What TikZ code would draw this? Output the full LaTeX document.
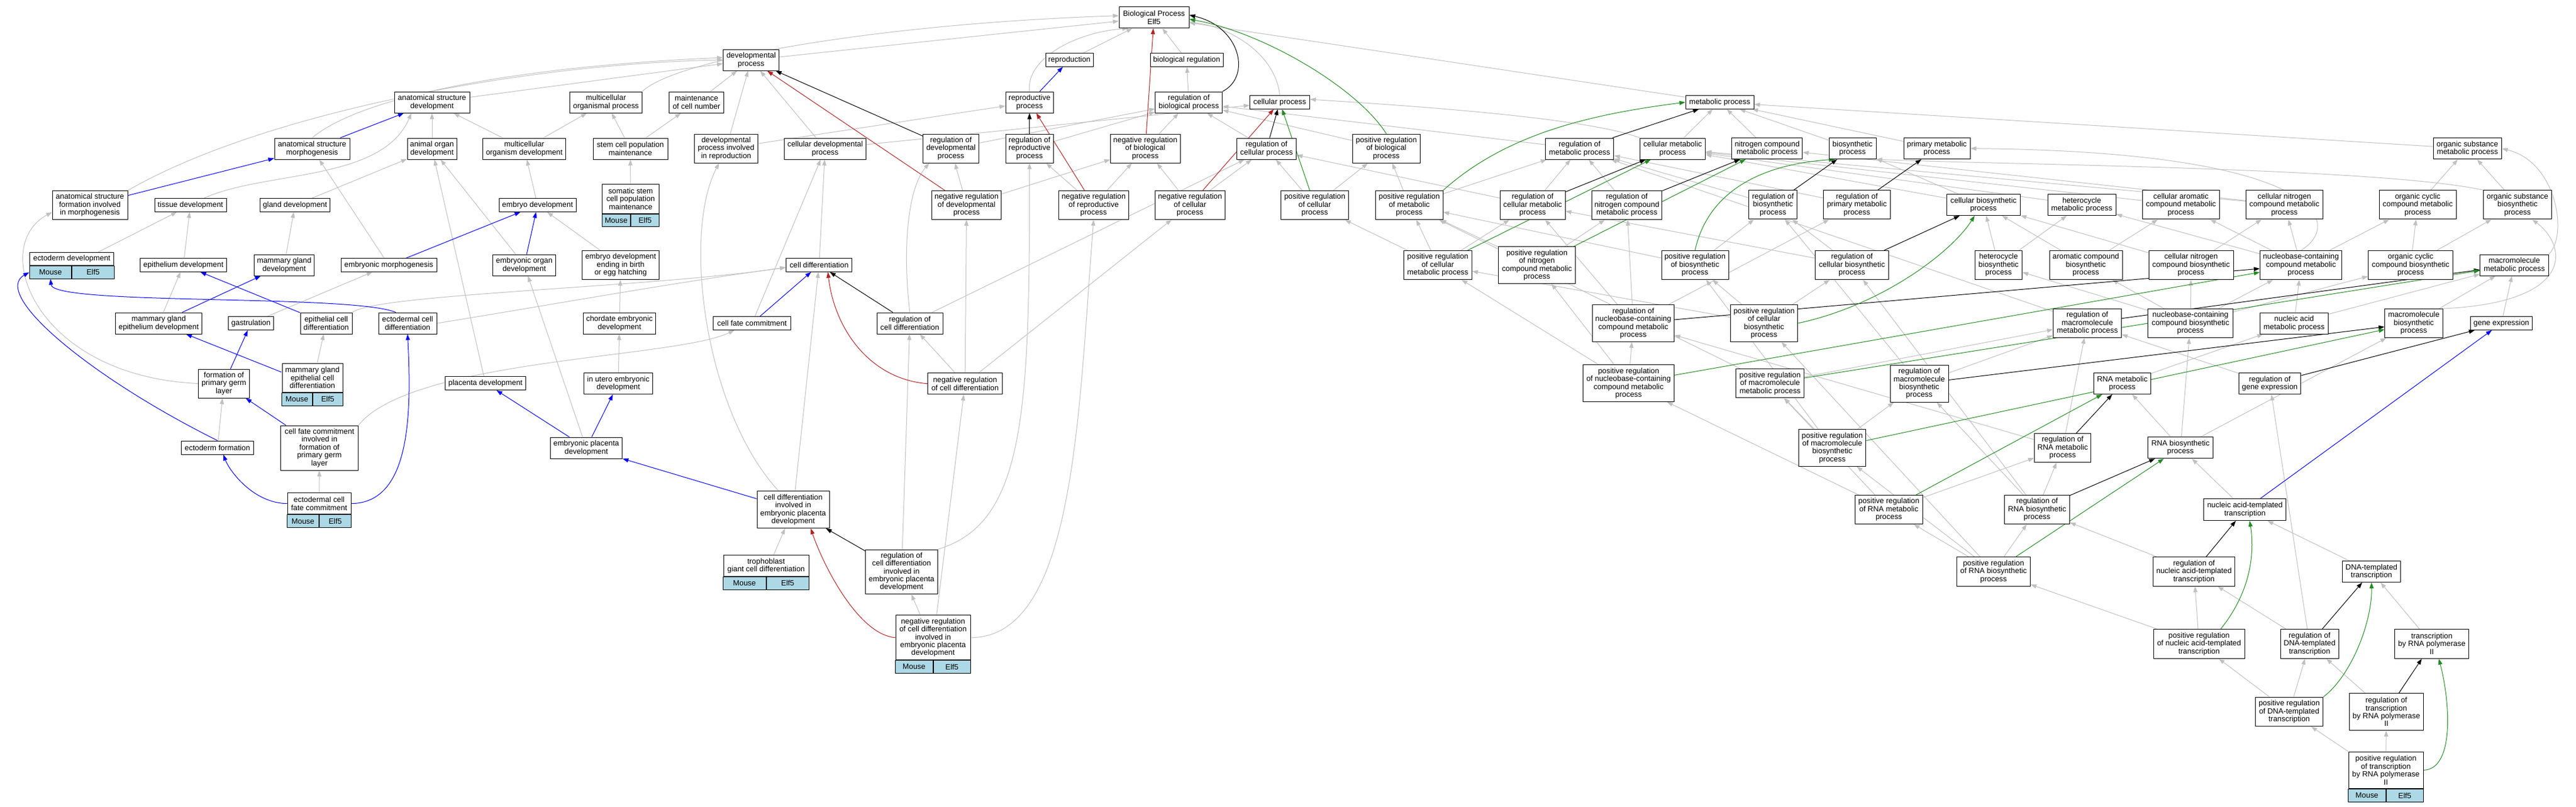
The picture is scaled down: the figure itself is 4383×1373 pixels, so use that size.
\documentclass[tikz,border=0pt]{standalone}
\usepackage{fontspec}
\setmainfont{Liberation Sans}
\usetikzlibrary{arrows.meta,fit,backgrounds}
\definecolor{eg}{HTML}{C0C0C0}
\definecolor{er}{HTML}{B22222}
\definecolor{en}{HTML}{228B22}
\definecolor{cellb}{HTML}{ADD8E6}
\tikzset{
 box/.style={draw=black, line width=1pt, fill=white, align=center, font=\fontsize{12.9}{13.4}\selectfont, inner xsep=1pt, inner ysep=0pt},
 cell/.style={draw=black, line width=1pt, fill=cellb, font=\fontsize{12.9}{13.4}\selectfont, minimum height=21.5pt, inner sep=0pt},
 edg/.style={line width=1pt, -{Triangle[length=10pt,width=7pt]}},
 isa/.style={edg, eg}, po/.style={edg, blue}, rg/.style={edg, black}, nr/.style={edg, er}, pr/.style={edg, en}
}
\newcommand\gbox[6]{\node[box, minimum width=#4pt, minimum height=#5pt] (#1) at (#2,#3) {#6};}
\newcommand\gmouse[6]{%
 \node[box, anchor=north, minimum width=#4pt, minimum height=#5pt] (#1t) at (#2,#3) {#6};
 \node[cell, anchor=north east, minimum width=#4pt/2] (#1m) at (#1t.south) {Mouse};
 \node[cell, anchor=north west, minimum width=#4pt/2] (#1e) at (#1t.south) {Elf5};
 \node[fit=(#1t)(#1m)(#1e), inner sep=0pt] (#1) {};}
\begin{document}
\begin{tikzpicture}[x=1pt,y=-1pt]
\useasboundingbox (0,0) rectangle (4383,1373);
% row 1-3
\gbox{bp}{1963.5}{29.7}{119}{36}{Biological Process\\Elf5}
\gbox{devp}{1278}{102}{95}{36}{developmental\\process}
\gbox{repro}{1819.5}{102}{81}{22.5}{reproduction}
\gbox{bioreg}{2019}{102}{124}{22.5}{biological regulation}
\gbox{asd}{735}{174}{128}{36}{anatomical structure\\development}
\gbox{mop}{1031}{174}{123}{36}{multicellular\\organismal process}
\gbox{mcn}{1185}{174}{92.5}{36}{maintenance\\of cell number}
\gbox{rp}{1751.7}{174}{81}{36}{reproductive\\process}
\gbox{rbp}{2022.7}{174}{114}{36}{regulation of\\biological process}
\gbox{cp}{2177.5}{174}{101.6}{22.5}{cellular process}
\gbox{mp}{2926}{174}{116}{22.5}{metabolic process}
% row 4
\gbox{asm}{531}{253}{128}{36}{anatomical structure\\morphogenesis}
\gbox{aod}{735}{253}{84}{36}{animal organ\\development}
\gbox{mod}{892}{253}{141.5}{36}{multicellular\\organism development}
\gbox{scpm}{1072.5}{253}{127}{36}{stem cell population\\maintenance}
\gbox{dpir}{1235.5}{252.5}{108}{49}{developmental\\process involved\\in reproduction}
\gbox{cdp}{1404}{253}{139}{36}{cellular developmental\\process}
\gbox{rdp}{1618}{252.6}{94.7}{49}{regulation of\\developmental\\process}
\gbox{rrp}{1751.7}{252.6}{81.3}{49}{regulation of\\reproductive\\process}
\gbox{nrbp}{1948.7}{252.6}{118.6}{49}{negative regulation\\of biological\\process}
\gbox{rcp}{2155}{253}{101.6}{36}{regulation of\\cellular process}
\gbox{prbp}{2358.8}{252.6}{114.8}{49}{positive regulation\\of biological\\process}
\gbox{rmp}{2687.6}{253}{116.2}{36}{regulation of\\metabolic process}
\gbox{cmp}{2846}{253}{111}{36}{cellular metabolic\\process}
\gbox{ncmp}{3006.7}{252.6}{120.4}{36}{nitrogen compound\\metabolic process}
\gbox{bsp}{3152}{252.6}{80}{36}{biosynthetic\\process}
\gbox{pmp}{3295.5}{252.6}{113}{36}{primary metabolic\\process}
\gbox{osmp}{4198.2}{252.8}{116.4}{36}{organic substance\\metabolic process}
% row 5
\gbox{asf}{153}{349}{128}{49}{anatomical structure\\formation involved\\in morphogenesis}
\gbox{td}{324}{349}{122}{22.5}{tissue development}
\gbox{gd}{502}{349}{119}{22.5}{gland development}
\gbox{ed}{914.7}{349}{130.7}{22.5}{embryo development}
\gmouse{sscpm}{1073}{313}{96.6}{49.7}{somatic stem\\cell population\\maintenance}
\gbox{nrdp}{1644.6}{348.8}{118.6}{49}{negative regulation\\of developmental\\process}
\gbox{nrrp}{1860.8}{348.8}{118.6}{49}{negative regulation\\of reproductive\\process}
\gbox{nrcp}{2024.8}{348.8}{118.6}{49}{negative regulation\\of cellular\\process}
\gbox{prcp}{2237}{349}{115}{49}{positive regulation\\of cellular\\process}
\gbox{prmp}{2397.8}{348.8}{114.4}{49}{positive regulation\\of metabolic\\process}
\gbox{rcmp}{2607.8}{348.8}{110.5}{49}{regulation of\\cellular metabolic\\process}
\gbox{rncmp}{2768}{348.8}{119.6}{49}{regulation of\\nitrogen compound\\metabolic process}
\gbox{rbsp}{3016.6}{348.4}{81.6}{49}{regulation of\\biosynthetic\\process}
\gbox{rpmp}{3159.4}{348.4}{113.3}{49}{regulation of\\primary metabolic\\process}
\gbox{cbsp}{3374.8}{348.5}{125}{36}{cellular biosynthetic\\process}
\gbox{hmp}{3542}{348.5}{116}{36}{heterocycle\\metabolic process}
\gbox{cacmp}{3710.8}{348.4}{130.8}{49}{cellular aromatic\\compound metabolic\\process}
\gbox{cncmp}{3886.8}{348.4}{130.4}{49}{cellular nitrogen\\compound metabolic\\process}
\gbox{occmp}{4113.7}{348.4}{131}{49}{organic cyclic\\compound metabolic\\process}
\gbox{osbp}{4283.5}{348.4}{116}{49}{organic substance\\biosynthetic\\process}
% row 6
\gmouse{ecd}{122.2}{429}{143}{22}{ectoderm development}
\gbox{epd}{312}{451}{147}{22.5}{epithelium development}
\gbox{mgd}{483.5}{451}{102}{36}{mammary gland\\development}
\gbox{emm}{661.5}{451}{163}{22.5}{embryonic morphogenesis}
\gbox{eod}{892}{451}{106.6}{36}{embryonic organ\\development}
\gbox{edeb}{1056}{451}{130.6}{49}{embryo development\\ending in birth\\or egg hatching}
\gbox{cd}{1393.6}{451}{112}{22.5}{cell differentiation}
\gbox{prcmp}{2446.4}{451}{115.7}{49}{positive regulation\\of cellular\\metabolic process}
\gbox{prncmp}{2615}{451}{131}{62.5}{positive regulation\\of nitrogen\\compound metabolic\\process}
\gbox{prbsp}{2884}{451}{114}{49}{positive regulation\\of biosynthetic\\process}
\gbox{rcbsp}{3151}{451}{125}{49}{regulation of\\cellular biosynthetic\\process}
\gbox{hbsp}{3400.5}{451}{80.2}{49}{heterocycle\\biosynthetic\\process}
\gbox{acbsp}{3549}{451}{124}{49}{aromatic compound\\biosynthetic\\process}
\gbox{cncbsp}{3728}{451}{144}{49}{cellular nitrogen\\compound biosynthetic\\process}
\gbox{nccmp}{3915}{451}{139.3}{49}{nucleobase-containing\\compound metabolic\\process}
\gbox{occbsp}{4101.6}{451}{144}{49}{organic cyclic\\compound biosynthetic\\process}
\gbox{mmp}{4278}{451}{116.4}{36}{macromolecule\\metabolic process}
% row 7
\gbox{mged}{270}{550}{147}{36}{mammary gland\\epithelium development}
\gbox{gast}{427}{550}{77}{23}{gastrulation}
\gbox{ecdiff}{555}{550}{88}{36}{epithelial cell\\differentiation}
\gbox{ectcd}{693.5}{550}{99}{36}{ectodermal cell\\differentiation}
\gbox{ced}{1054}{550}{123.6}{36}{chordate embryonic\\development}
\gbox{cfc}{1279.5}{550}{131.7}{22.5}{cell fate commitment}
\gbox{rcd}{1548}{550}{112}{36}{regulation of\\cell differentiation}
\gbox{rnccmp}{2779}{550}{139}{62.5}{regulation of\\nucleobase-containing\\compound metabolic\\process}
\gbox{prcbsp}{3001.5}{550}{113.8}{62.8}{positive regulation\\of cellular\\biosynthetic\\process}
\gbox{rmmp}{3551.5}{549.7}{116}{49}{regulation of\\macromolecule\\metabolic process}
\gbox{nccbsp}{3727}{550}{144.4}{49}{nucleobase-containing\\compound biosynthetic\\process}
\gbox{namp}{3903.4}{550}{116}{36}{nucleic acid\\metabolic process}
\gbox{mbsp}{4107}{550}{98.6}{49}{macromolecule\\biosynthetic\\process}
\gbox{ge}{4256}{550}{105.7}{22.6}{gene expression}
% row 8
\gbox{fpgl}{381}{652.5}{87}{49}{formation of\\primary germ\\layer}
\gmouse{mgecd}{531.5}{617.5}{103}{49.5}{mammary gland\\epithelial cell\\differentiation}
\gbox{pd}{826}{652}{137}{23}{placenta development}
\gbox{ued}{1052}{652.7}{117.5}{36}{in utero embryonic\\development}
\gbox{nrcd}{1642}{652.8}{126.4}{36}{negative regulation\\of cell differentiation}
\gbox{prnccmp}{2771}{652}{155}{62.5}{positive regulation\\of nucleobase-containing\\compound metabolic\\process}
\gbox{prmmp}{3011.7}{652.3}{116}{49}{positive regulation\\of macromolecule\\metabolic process}
\gbox{rmbsp}{3265.5}{652.5}{99}{63}{regulation of\\macromolecule\\biosynthetic\\process}
\gbox{rnamp}{3611}{652.5}{96.3}{36}{RNA metabolic\\process}
\gbox{rge}{3862}{652.7}{105.7}{36}{regulation of\\gene expression}
% row 9
\gbox{ectf}{370}{761.5}{123}{23}{ectoderm formation}
\gbox{cfcpgl}{543.5}{762}{132}{76}{cell fate commitment\\involved in\\formation of\\primary germ\\layer}
\gbox{epd2}{997.5}{762}{122.7}{36}{embryonic placenta\\development}
\gbox{prmbsp}{3117.6}{761.8}{114.7}{62.6}{positive regulation\\of macromolecule\\biosynthetic\\process}
\gbox{rrnamp}{3509.5}{762}{96.3}{49}{regulation of\\RNA metabolic\\process}
\gbox{rnabsp}{3710}{761.6}{110.8}{36.5}{RNA biosynthetic\\process}
% row 10
\gmouse{ectcfc}{543}{838}{108}{36.4}{ectodermal cell\\fate commitment}
\gbox{cdepd}{1349.5}{867}{123}{63}{cell differentiation\\involved in\\embryonic placenta\\development}
\gbox{prrnamp}{3213.8}{867}{114.7}{49}{positive regulation\\of RNA metabolic\\process}
\gbox{rrnabsp}{3466}{867}{110.4}{49}{regulation of\\RNA biosynthetic\\process}
\gbox{natt}{3819.7}{867.2}{140.2}{36.5}{nucleic acid-templated\\transcription}
% row 11
\gmouse{tgcd}{1303.5}{943.8}{145}{36.2}{trophoblast\\giant cell differentiation}
\gbox{rcdepd}{1534}{972.8}{122.5}{75.6}{regulation of\\cell differentiation\\involved in\\embryonic placenta\\development}
\gbox{prrnabsp}{3392}{972.3}{125}{49.4}{positive regulation\\of RNA biosynthetic\\process}
\gbox{rnatt}{3733}{972.3}{139.9}{49.4}{regulation of\\nucleic acid-templated\\transcription}
\gbox{dtt}{4035}{972.5}{98.6}{36}{DNA-templated\\transcription}
% row 12-14
\gmouse{nrcdepd}{1587.5}{1046.3}{127}{76}{negative regulation\\of cell differentiation\\involved in\\embryonic placenta\\development}
\gbox{prnatt}{3741.6}{1095.3}{155.2}{49.8}{positive regulation\\of nucleic acid-templated\\transcription}
\gbox{rdtt}{3929.6}{1095.3}{99}{49.8}{regulation of\\DNA-templated\\transcription}
\gbox{trp2}{4137.6}{1095.3}{126.2}{49.8}{transcription\\by RNA polymerase\\II}
\gbox{prdtt}{3895}{1211}{115}{49.4}{positive regulation\\of DNA-templated\\transcription}
\gbox{rtrp2}{4060.3}{1211.2}{125.7}{62.7}{regulation of\\transcription\\by RNA polymerase\\II}
\gmouse{prtrp2}{4059.5}{1278.5}{127}{62.7}{positive regulation\\of transcription\\by RNA polymerase\\II}

\begin{pgfonlayer}{background}
\fill[white] (0,0) rectangle (4383,1373);
\foreach \a/\b in {devp/bp, repro/bp, bioreg/bp, mp/bp,
 asd/devp, mcn/devp, dpir/devp, cdp/devp,
 aod/asd, mod/asd, mod/mop, scpm/mop, scpm/mcn, dpir/rp, cdp/cp,
 rbp/bioreg, rdp/rbp, rrp/rbp, nrbp/rbp, rcp/rbp, prbp/rbp, rmp/rbp,
 cmp/mp, ncmp/mp, bsp/mp, pmp/mp, osmp/mp,
 gd/aod, pd/aod, eod/aod, ed/mod, sscpm/scpm,
 nrdp/rdp, nrdp/nrbp, nrrp/rrp, nrrp/nrbp, nrcp/nrbp, nrcp/rcp,
 prcp/rcp, prcp/prbp, prmp/rmp, prmp/prbp, rcmp/rmp, rcmp/rcp, rncmp/rmp,
 rbsp/rmp, rpmp/rmp, cbsp/bsp, cbsp/cmp, hmp/cmp, cacmp/cmp, cncmp/cmp, cncmp/ncmp,
 occmp/osmp, osbp/osmp,
 ecd/td, epd/td, mgd/gd, emm/asm, edeb/ed, cd/cdp,
 prcmp/rcmp, prcmp/prmp, prcmp/prcp, prncmp/rncmp, prncmp/prmp,
 prbsp/rbsp, prbsp/prmp, rcbsp/rbsp, rcbsp/rcmp, hbsp/hmp, hbsp/cbsp,
 acbsp/cbsp, acbsp/cacmp, cncbsp/cncmp, cncbsp/cbsp,
 nccmp/hmp, nccmp/cacmp, nccmp/cncmp, nccmp/occmp,
 occbsp/occmp, occbsp/osbp,
 mged/epd, gast/emm, ced/edeb, cfc/cdp, rcd/rcp,
 rnccmp/rcmp, rnccmp/rncmp, rnccmp/rpmp, prcbsp/rcbsp, prcbsp/prcmp, prcbsp/prbsp,
 rmmp/rmp, nccbsp/nccmp, nccbsp/cncbsp, nccbsp/hbsp, nccbsp/acbsp, nccbsp/occbsp,
 namp/nccmp, namp/mmp, mbsp/mmp, ge/mmp,
 mgecd/ecdiff, ued/ced, nrcd/rcd, nrcd/nrdp, nrcd/nrcp,
 prnccmp/rnccmp, prnccmp/prcmp, prnccmp/prncmp, prmmp/rmmp, prmmp/prmp,
 rmbsp/rbsp, rmbsp/rmmp, rnamp/namp, rge/rmmp,
 ectf/fpgl, epd2/eod, prmbsp/rmbsp, prmbsp/prmmp, prmbsp/prbsp,
 rrnamp/rnccmp, rrnamp/rmmp, rnabsp/rnamp, rnabsp/nccbsp, rnabsp/mbsp,
 ectcfc/cfcpgl, cdepd/cd,
 prrnamp/rrnamp, prrnamp/prnccmp, prrnamp/prmmp,
 rrnabsp/rrnamp, rrnabsp/rmbsp, rrnabsp/rcbsp, natt/rnabsp, tgcd/cdepd,
 rcdepd/rcd,
 prrnabsp/rrnabsp, prrnabsp/prrnamp, prrnabsp/prmbsp, prrnabsp/prcbsp,
 rnatt/rrnabsp, dtt/natt, nrcdepd/rcdepd, nrcdepd/nrcd,
 prnatt/rnatt, prnatt/prrnabsp, rdtt/rnatt, rdtt/rge, trp2/dtt,
 prdtt/rdtt, prdtt/prnatt, rtrp2/rdtt, prtrp2/rtrp2, prtrp2/prdtt}
 \draw[isa] (\a) -- (\b);
% curved gray edges
\draw[isa] (asf.north east) .. controls (450,190) and (900,108) .. (devp.west);
\draw[isa] (asm.north) .. controls (620,160) and (900,112) .. ([yshift=4pt]devp.west);
\draw[isa] (mop.north east) .. controls (1150,100) and (1500,40) .. ([yshift=3pt]bp.west);
\draw[isa] ([xshift=23pt]td.north) .. controls (450,290) and (650,310) .. ([xshift=-35pt]asd.south);
\draw[isa] (fpgl.west) .. controls (60,640) and (-20,420) .. ([yshift=-12pt]asf.west);
\draw[isa] (ecdiff.north east) .. controls (640,500) and (1100,490) .. ([yshift=-4pt]cd.west);
\draw[isa] (ectcd.east) .. controls (900,525) and (1150,480) .. ([yshift=-4pt]cd.west);
\draw[isa] (cfcpgl.north east) .. controls (700,610) and (1150,610) .. ([xshift=-30pt]cfc.south);
\draw[isa] ([xshift=-25pt]cdepd.north) .. controls (1200,700) and (1160,400) .. ([xshift=-12pt]dpir.south);
\draw[isa] (rcd.north) .. controls (1535,420) and (1545,320) .. ([xshift=-37pt]rdp.south);
\draw[isa] (nrcdepdt.east) .. controls (1830,1085) and (1835,700) .. (nrrp.south);
\draw[isa] (rcdepd.north east) .. controls (1745,890) and (1752,700) .. (rrp.south);
\draw[isa] (cp.north) .. controls (2170,90) and (2090,45) .. ([yshift=-8pt]bp.east);
\draw[isa] (cmp.north west) .. controls (2700,200) and (2400,180) .. ([yshift=5pt]cp.east);
\draw[isa] (nccmp.north) .. controls (3990,380) and (3950,258) .. (pmp.east);
\draw[isa] (osbp.north west) .. controls (4050,285) and (3400,280) .. (bsp.south east);
\draw[isa] (mmp.north east) .. controls (4370,400) and (4350,275) .. (osmp.east);
\draw[isa] (mbsp.north east) .. controls (4380,515) and (4370,420) .. ([xshift=25pt]osbp.south);
\draw[isa] (rp.north) .. controls (1745,100) and (1830,55) .. ([xshift=16pt]bp.south west);
% blue
\foreach \a/\b in {rp/repro, asm/asd, asf/asm, emm/ed, eod/ed, mged/mgd, ecdiff/epd,
 cfc/cd, fpgl/gast, mgecd/mged, cfcpgl/fpgl, epd2/pd, epd2/ued,
 cdepd/epd2, natt/ge}
 \draw[po] (\a) -- (\b);
\draw[po] (ectf.north) .. controls (150,640) and (-15,500) .. (ecdm.west);
\draw[po] ([xshift=-20pt]ectcd.north) .. controls (600,500) and (90,520) .. (ecdm.south);
\draw[po] (ectcfct.east) .. controls (700,856) and (700,700) .. (ectcd.south);
\draw[po] (ectcfct.west) .. controls (430,856) and (390,800) .. ([xshift=10pt]ectf.south);
% black
\foreach \a/\b in {rdp/devp, rrp/rp, rcp/cp, rmp/mp, rcmp/cmp, rncmp/ncmp,
 rbsp/bsp, rpmp/pmp, rcbsp/cbsp, rcd/cd, rnccmp/nccmp, rmmp/mmp, rge/ge, rmbsp/mbsp,
 rrnamp/rnamp, rrnabsp/rnabsp, rnatt/natt, rcdepd/cdepd, rdtt/dtt, rtrp2/trp2}
 \draw[rg] (\a) -- (\b);
\draw[rg] (rbp.north east) .. controls (2130,130) and (2110,45) .. ([yshift=4pt]bp.east);
% red
\foreach \a/\b in {nrbp/bp, nrdp/devp, nrrp/rp, nrcp/cp}
 \draw[nr] (\a) -- (\b);
\draw[nr] (nrcd.west) .. controls (1480,645) and (1420,560) .. ([xshift=15pt]cd.south);
\draw[nr] (nrcdepdt.west) .. controls (1460,1080) and (1400,960) .. ([xshift=30pt]cdepd.south);
% green
\foreach \a/\b in {prcp/cp, prcmp/cmp, prncmp/ncmp,
 prnccmp/nccmp, prmmp/mmp, prmbsp/mbsp, prrnamp/rnamp, prrnabsp/rnabsp}
 \draw[pr] (\a) -- (\b);
\draw[pr] (prbp.north) .. controls (2310,150) and (2150,55) .. ([yshift=-3pt]bp.east);
\draw[pr] (prmp.north east) .. controls (2560,230) and (2700,195) .. (mp.west);
\draw[pr] (prbsp.north) .. controls (2905,330) and (2990,280) .. ([xshift=-30pt]bsp.south);
\draw[pr] (prcbsp.east) .. controls (3200,520) and (3320,430) .. ([xshift=-15pt]cbsp.south);
\draw[pr] (prtrp2t.east) .. controls (4175,1309) and (4170,1200) .. ([xshift=12pt]trp2.south);
\draw[pr] (prdtt.north east) .. controls (4000,1150) and (4036,1060) .. (dtt.south);
\draw[pr] ([xshift=37pt]prnatt.north) .. controls (3835,1000) and (3835,930) .. ([xshift=8pt]natt.south);
\end{pgfonlayer}
\end{tikzpicture}
\end{document}
